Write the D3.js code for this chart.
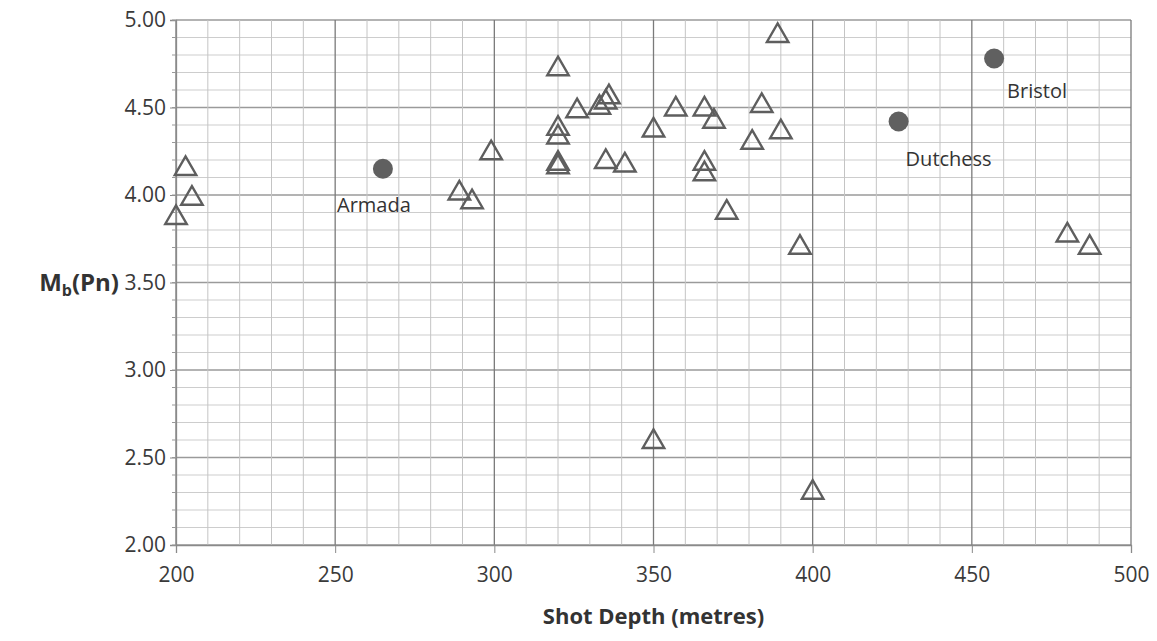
<!DOCTYPE html>
<html>
<head>
<meta charset="utf-8">
<script src="https://cdn.jsdelivr.net/npm/d3@7"></script>
<style>
  body { margin: 0; background: #fff; }
  svg { font-family: "Open Sans", sans-serif; }
</style>
</head>
<body>
<div id="chart"></div>
<script>
// shot data (triangles)
const shotDepth = [200, 203, 205, 289, 293, 299, 320, 320, 320, 320, 320, 326, 333, 335, 336, 335, 341, 350, 350, 357, 366, 369, 366, 366, 373, 381, 384, 389, 390, 396, 400, 480, 487];
const shotMb    = [3.87, 4.15, 3.98, 4.01, 3.96, 4.24, 4.72, 4.38, 4.33, 4.18, 4.16, 4.48, 4.50, 4.53, 4.56, 4.19, 4.17, 4.37, 2.59, 4.49, 4.49, 4.42, 4.18, 4.12, 3.90, 4.30, 4.51, 4.91, 4.36, 3.70, 2.30, 3.77, 3.70];

// named shots (filled circles)
const namedShots = ["Armada", "Dutchess", "Bristol"];
const namedDepth = [265, 427, 457];
const namedMb    = [4.15, 4.42, 4.78];

const xTicks = [200, 250, 300, 350, 400, 450, 500];
const yTicks = [2.00, 2.50, 3.00, 3.50, 4.00, 4.50, 5.00];

const width = 1157, height = 641;
const margin = {left: 176, right: 26, top: 20, bottom: 96};

const svg = d3.select("#chart").append("svg")
  .attr("width", width)
  .attr("height", height);

const x = d3.scaleLinear().domain([200, 500]).range([margin.left, width - margin.right]);
const y = d3.scaleLinear().domain([2, 5]).range([height - margin.bottom, margin.top]);

// minor grid
const xMinor = d3.range(200, 501, 10);
const yMinor = d3.range(20, 51, 1).map(d => d / 10);

svg.append("g").selectAll("line")
  .data(yMinor).enter().append("line")
  .attr("x1", x(200)).attr("x2", x(500))
  .attr("y1", d => y(d)).attr("y2", d => y(d))
  .attr("stroke", d => (Math.round(d * 10) % 5 === 0) ? "#9a9a9a" : "#cdcdcd")
  .attr("stroke-width", d => (Math.round(d * 10) % 5 === 0) ? 1.3 : 1);

svg.append("g").selectAll("line")
  .data(xMinor).enter().append("line")
  .attr("y1", y(2)).attr("y2", y(5))
  .attr("x1", d => x(d)).attr("x2", d => x(d))
  .attr("stroke", d => d % 50 === 0 ? "#7a7a7a" : "#c4c4c4")
  .attr("stroke-width", d => d % 50 === 0 ? 1.3 : 1);

// axes
const xAxis = svg.append("g")
  .attr("transform", "translate(0," + y(2) + ")")
  .call(d3.axisBottom(x).tickValues(xTicks).tickFormat(d3.format("d")).tickSize(8).tickPadding(14));

const yAxis = svg.append("g")
  .attr("transform", "translate(" + x(200) + ",0)")
  .call(d3.axisLeft(y).tickValues(yTicks).tickFormat(d3.format(".2f")).tickSize(6).tickPadding(4));

// minor ticks on y axis
svg.append("g").selectAll("line")
  .data(yMinor).enter().append("line")
  .attr("x1", x(200) - 4).attr("x2", x(200))
  .attr("y1", d => y(d)).attr("y2", d => y(d))
  .attr("stroke", "#999");

[xAxis, yAxis].forEach(a => {
  a.attr("font-family", "Open Sans").attr("font-size", 21);
  a.select(".domain").attr("stroke", "#8a8a8a").attr("stroke-width", 1.3);
  a.selectAll(".tick line").attr("stroke", "#8a8a8a");
  a.selectAll("text").attr("fill", "#3a3a3a");
});

// triangles
svg.append("g").selectAll("path")
  .data(shotDepth).enter().append("path")
  .attr("d", d3.symbol(d3.symbolTriangle, 200))
  .attr("transform", (d, i) => "translate(" + x(d) + "," + y(shotMb[i]) + ")")
  .attr("fill", "none")
  .attr("stroke", "#5e5e5e")
  .attr("stroke-width", 2.4);

// named shots
const labelOffsets = [[-9, 43, "middle"], [7, 44, "start"], [13, 39, "start"]];
svg.append("g").selectAll("circle")
  .data(namedDepth).enter().append("circle")
  .attr("cx", d => x(d))
  .attr("cy", (d, i) => y(namedMb[i]))
  .attr("r", 10)
  .attr("fill", "#606060");

svg.append("g").selectAll("text")
  .data(namedShots).enter().append("text")
  .attr("x", (d, i) => x(namedDepth[i]) + labelOffsets[i][0])
  .attr("y", (d, i) => y(namedMb[i]) + labelOffsets[i][1])
  .attr("text-anchor", (d, i) => labelOffsets[i][2])
  .attr("fill", "#333")
  .style("font-size", "20px")
  .text(d => d);

// axis titles
svg.append("text")
  .attr("x", (x(200) + x(500)) / 2)
  .attr("y", 624)
  .attr("text-anchor", "middle")
  .attr("fill", "#333")
  .style("font-size", "22px")
  .style("font-weight", "bold")
  .text("Shot Depth (metres)");

const yt = svg.append("text")
  .attr("x", 119)
  .attr("y", y(3.5) + 8)
  .attr("text-anchor", "end")
  .attr("fill", "#333")
  .style("font-size", "24px")
  .style("font-weight", "bold");
yt.append("tspan").text("M");
yt.append("tspan").attr("dy", 5).style("font-size", "16px").text("b");
yt.append("tspan").attr("dy", -5).text("(Pn)");
</script>
</body>
</html>
